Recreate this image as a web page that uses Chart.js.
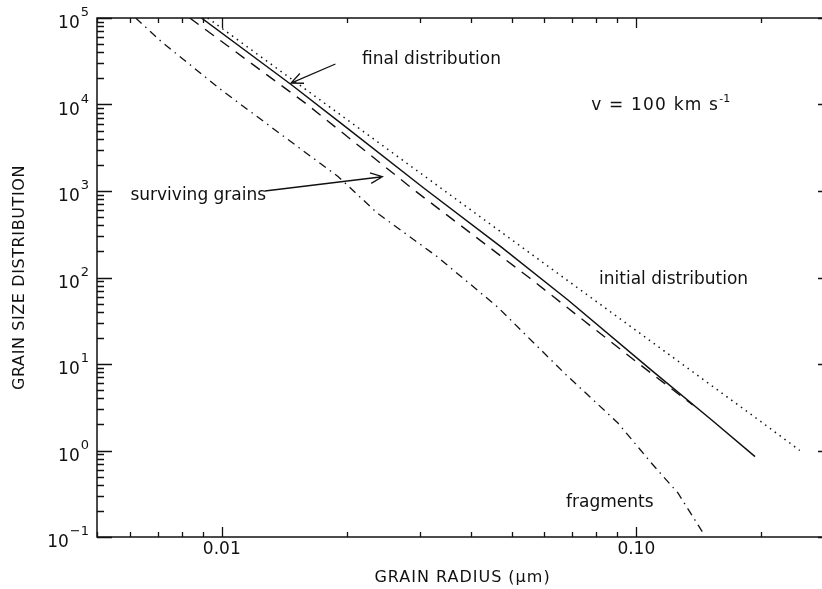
<!DOCTYPE html>
<html>
<head>
<meta charset="utf-8">
<title>Grain size distribution</title>
<script src="https://cdn.jsdelivr.net/npm/chart.js@4.4.1/dist/chart.umd.min.js"></script>
<style>
    html, body { margin: 0; padding: 0; background: #fff; overflow: hidden; }
    canvas { display: block; }
</style>
</head>
<body>
<canvas id="grainChart" width="830" height="589"></canvas>
<script>
// Grain size distribution after a 100 km/s shock

// radius in micron, distribution in arbitrary units
const initialRadius = [0.00925, 0.02, 0.05, 0.1, 0.2, 0.248];
const initialCount = [1e5, 6750, 274, 24.3, 2.15, 1.0];

const finalRadius = [0.00893, 0.01475, 0.01986, 0.0307, 0.0471, 0.0684, 0.1087, 0.152, 0.1934];
const finalCount = [1e5, 16800, 5540, 1083, 227, 55, 8.5, 2.25, 0.85];

const survivingRadius = [0.00837, 0.01607, 0.0293, 0.0551, 0.0748, 0.1016, 0.1368];
const survivingCount = [1e5, 1e4, 1000, 100, 31.6, 10, 3.36];

const fragmentRadius = [0.0062, 0.00715, 0.00998, 0.01396, 0.0191, 0.0237, 0.0331, 0.0462, 0.067, 0.0903, 0.1087, 0.126, 0.145];
const fragmentCount = [1e5, 53200, 14700, 4440, 1463, 557, 174, 45.9, 7.87, 2.08, 0.716, 0.323, 0.111];

// axis ticks
const xMajorTicks = [0.01, 0.1];
const xTickLabels = ['0.01', '0.10'];
const yMajorTicks = [0.1, 1, 10, 100, 1000, 10000, 100000];
const yTickExponents = ['\u22121', '0', '1', '2', '3', '4', '5'];

// 1. Style
const Theme = {
    ink: '#111',
    font: '"DejaVu Sans", sans-serif'
};

function toPoints(xs, ys) {
    return xs.map((v, i) => ({ x: v, y: ys[i] }));
}

// 2. Frame, ticks, labels and notes drawn through the chart's own scales
const framePlugin = {
    id: 'frame',
    afterDatasetsDraw(chart) {
        const { ctx, chartArea: a, scales } = chart;
        const xs = scales.x, ys = scales.y;
        const px = v => xs.getPixelForValue(v);
        const py = v => ys.getPixelForValue(v);

        ctx.save();
        ctx.strokeStyle = Theme.ink;
        ctx.fillStyle = Theme.ink;
        ctx.lineWidth = 1.5;
        ctx.strokeRect(a.left, a.top, a.right - a.left, a.bottom - a.top);

        // y ticks (inward), minor ones at 2..9 of each decade
        ctx.lineWidth = 1.3;
        ctx.beginPath();
        yMajorTicks.forEach(v => {
            const y = Math.round(py(v)) + 0.5;
            ctx.moveTo(a.left, y); ctx.lineTo(a.left + 15, y);
            ctx.moveTo(a.right, y); ctx.lineTo(a.right - 10, y);
        });
        for (let d = 0.1; d < 1e5; d *= 10) {
            for (let m = 2; m <= 9; m++) {
                const y = Math.round(py(m * d)) + 0.5;
                ctx.moveTo(a.left, y); ctx.lineTo(a.left + 7, y);
            }
        }
        // x ticks, bottom and top
        xMajorTicks.forEach(v => {
            const x = Math.round(px(v)) + 0.5;
            ctx.moveTo(x, a.bottom); ctx.lineTo(x, a.bottom - 10);
            ctx.moveTo(x, a.top); ctx.lineTo(x, a.top + 10);
        });
        for (let d = 0.001; d < 1; d *= 10) {
            for (let m = 2; m <= 9; m++) {
                const v = m * d;
                if (v < xs.min || v > xs.max) continue;
                const x = Math.round(px(v)) + 0.5;
                ctx.moveTo(x, a.bottom); ctx.lineTo(x, a.bottom - 5);
                ctx.moveTo(x, a.top); ctx.lineTo(x, a.top + 5);
            }
        }
        ctx.stroke();

        // y tick labels: 10 with raised exponent
        ctx.textBaseline = 'middle';
        yMajorTicks.forEach((v, i) => {
            const y = py(v);
            const exp = yTickExponents[i];
            ctx.font = '13px ' + Theme.font;
            const ew = ctx.measureText(exp).width;
            const right = 89;
            ctx.textAlign = 'left';
            ctx.fillText(exp, right - ew, y - 5);
            ctx.font = '17px ' + Theme.font;
            ctx.textAlign = 'right';
            ctx.fillText('10', right - ew - 1, y + 6);
        });

        // x tick labels
        ctx.font = '17px ' + Theme.font;
        ctx.textAlign = 'center';
        xMajorTicks.forEach((v, i) => ctx.fillText(xTickLabels[i], px(v), 550));

        // axis titles
        ctx.font = '16px ' + Theme.font;
        ctx.letterSpacing = '1px';
        ctx.fillText('GRAIN RADIUS (\u03bcm)', (a.left + a.right) / 2, 578);
        ctx.save();
        ctx.translate(20, (a.top + a.bottom) / 2);
        ctx.rotate(-Math.PI / 2);
        ctx.letterSpacing = '0.6px';
        ctx.fillText('GRAIN SIZE DISTRIBUTION', 0, 0);
        ctx.restore();
        ctx.letterSpacing = '0px';

        // notes
        ctx.font = '17px ' + Theme.font;
        ctx.textAlign = 'left';
        ctx.fillText('final distribution', px(0.0218), py(32700));
        ctx.fillText('surviving grains', px(0.00602), py(875));
        ctx.fillText('initial distribution', px(0.0813), py(93.5));
        ctx.fillText('fragments', px(0.0677), py(0.247));

        ctx.letterSpacing = '1.2px';
        const vx = px(0.0778), vy = py(9800);
        const vText = 'v = 100 km s';
        ctx.fillText(vText, vx, vy);
        const vw = ctx.measureText(vText).width;
        ctx.letterSpacing = '0px';
        ctx.font = '11px ' + Theme.font;
        ctx.fillText('-1', vx + vw, vy - 6);

        // arrows
        drawArrow(ctx, px(0.0188), py(29400), px(0.01469), py(17700));
        drawArrow(ctx, px(0.0127), py(1000), px(0.0244), py(1462));
        ctx.restore();
    }
};

function drawArrow(ctx, x0, y0, x1, y1) {
    const ang = Math.atan2(y1 - y0, x1 - x0);
    const len = 13, spread = 0.42;
    ctx.lineWidth = 1.3;
    ctx.beginPath();
    ctx.moveTo(x0, y0);
    ctx.lineTo(x1, y1);
    ctx.moveTo(x1 - len * Math.cos(ang - spread), y1 - len * Math.sin(ang - spread));
    ctx.lineTo(x1, y1);
    ctx.lineTo(x1 - len * Math.cos(ang + spread), y1 - len * Math.sin(ang + spread));
    ctx.stroke();
}

// 3. Chart
function buildChart() {
    const ctx = document.getElementById('grainChart').getContext('2d');
    const line = (label, xs, ys, dash, width) => ({
        label,
        data: toPoints(xs, ys),
        showLine: true,
        borderColor: Theme.ink,
        borderWidth: width,
        borderDash: dash,
        pointRadius: 0,
        tension: 0,
        fill: false
    });

    new Chart(ctx, {
        type: 'scatter',
        data: {
            datasets: [
                line('initial distribution', initialRadius, initialCount, [1.5, 4.5], 1.5),
                line('final distribution', finalRadius, finalCount, [], 1.5),
                line('surviving grains', survivingRadius, survivingCount, [11, 8], 1.4),
                line('fragments', fragmentRadius, fragmentCount, [8, 5, 1.5, 5], 1.3)
            ]
        },
        options: {
            responsive: false,
            animation: false,
            devicePixelRatio: 1,
            layout: { padding: { left: 97, top: 18, right: 2, bottom: 52 } },
            plugins: { legend: { display: false }, tooltip: { enabled: false } },
            scales: {
                x: { type: 'logarithmic', min: 0.005, max: 0.29, display: false },
                y: { type: 'logarithmic', min: 0.1, max: 1e5, display: false }
            }
        },
        plugins: [framePlugin]
    });
}

document.addEventListener('DOMContentLoaded', buildChart);
</script>
</body>
</html>
